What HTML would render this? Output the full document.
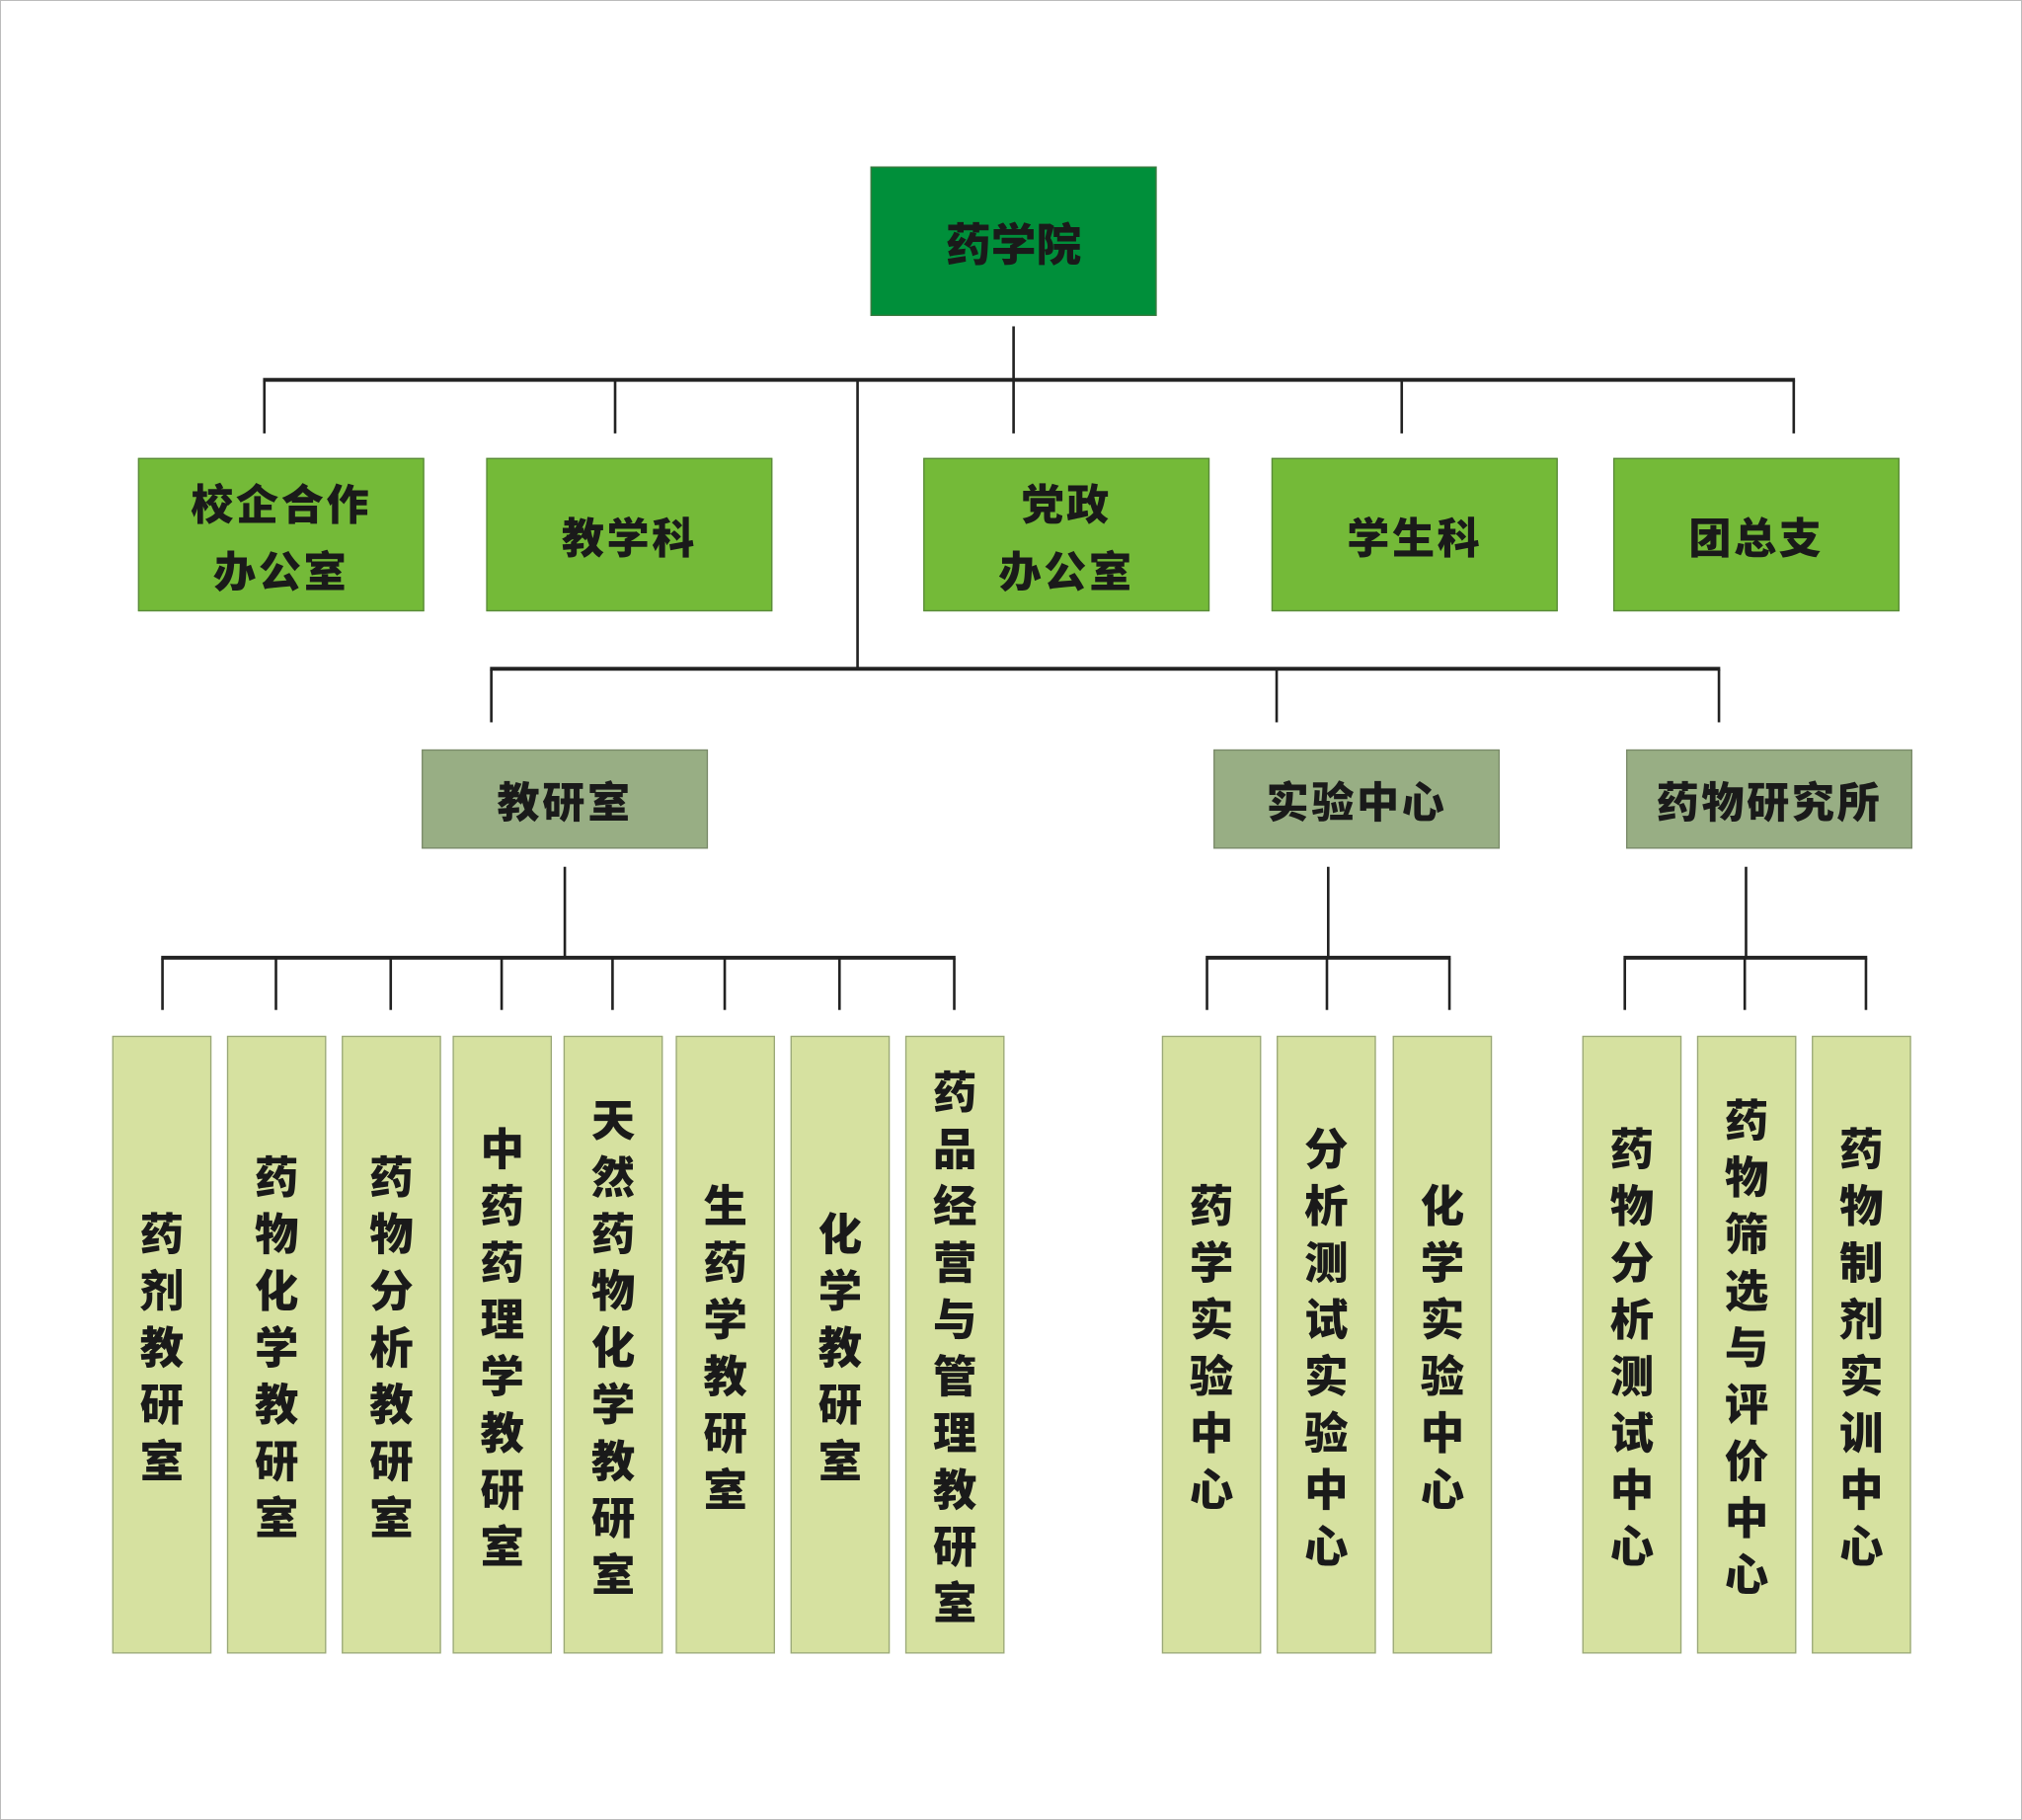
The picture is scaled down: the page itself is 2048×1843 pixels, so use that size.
<!DOCTYPE html>
<html><head><meta charset="utf-8"><style>
html,body{margin:0;padding:0;background:#fff;}
body{width:2048px;height:1843px;overflow:hidden;position:relative;}
#w{position:absolute;left:0;top:0;width:1568px;height:1411px;transform:scale(1.30612,1.30616);transform-origin:0 0;}
.b{position:absolute;display:flex;align-items:center;justify-content:center;text-align:center;box-sizing:border-box;font-family:"Noto Sans CJK SC","Liberation Sans",sans-serif;font-weight:900;color:#1a1a1a;}
.r{background:#008f3a;border:1px solid #3c7a40;font-size:35px;}
.g{background:#74ba38;border:1px solid #5a8a3a;font-size:33px;line-height:52px;letter-spacing:2px;}
.m{background:#98ae84;border:1px solid #7a8a6a;font-size:33px;letter-spacing:2px;}
.c{background:#d6e1a0;border:1px solid #9aa878;font-size:34px;line-height:44px;top:803px;height:479px;width:77px;}
.h{position:absolute;background:#222;height:3px;}
.v{position:absolute;background:#222;width:2px;}
#frame{position:absolute;left:0;top:0;width:2046px;height:1841px;border:1px solid #bbb;}
</style></head><body><div id="frame"></div><div id="w">
<div class="b r" style="left:675px;top:129px;width:222px;height:116px">药学院</div>
<div class="v" style="left:785px;top:253px;height:42px"></div>
<div class="h" style="left:204px;top:293px;width:1188px"></div>
<div class="v" style="left:204px;top:295px;height:41px"></div>
<div class="v" style="left:476px;top:295px;height:41px"></div>
<div class="v" style="left:785px;top:295px;height:41px"></div>
<div class="v" style="left:1086px;top:295px;height:41px"></div>
<div class="v" style="left:1390px;top:295px;height:41px"></div>
<div class="v" style="left:664px;top:295px;height:224px"></div>
<div class="b g" style="left:107px;top:355px;width:222px;height:119px">校企合作<br>办公室</div>
<div class="b g" style="left:377px;top:355px;width:222px;height:119px">教学科</div>
<div class="b g" style="left:716px;top:355px;width:222px;height:119px">党政<br>办公室</div>
<div class="b g" style="left:986px;top:355px;width:222px;height:119px">学生科</div>
<div class="b g" style="left:1251px;top:355px;width:222px;height:119px">团总支</div>
<div class="h" style="left:380px;top:517px;width:954px"></div>
<div class="v" style="left:380px;top:519px;height:41px"></div>
<div class="v" style="left:989px;top:519px;height:41px"></div>
<div class="v" style="left:1332px;top:519px;height:41px"></div>
<div class="b m" style="left:327px;top:581px;width:222px;height:77px">教研室</div>
<div class="b m" style="left:941px;top:581px;width:222px;height:77px">实验中心</div>
<div class="b m" style="left:1261px;top:581px;width:222px;height:77px">药物研究所</div>
<div class="v" style="left:437px;top:672px;height:71px"></div>
<div class="h" style="left:125px;top:741px;width:616px"></div>
<div class="v" style="left:125px;top:743px;height:40px"></div>
<div class="v" style="left:213px;top:743px;height:40px"></div>
<div class="v" style="left:302px;top:743px;height:40px"></div>
<div class="v" style="left:388px;top:743px;height:40px"></div>
<div class="v" style="left:474px;top:743px;height:40px"></div>
<div class="v" style="left:561px;top:743px;height:40px"></div>
<div class="v" style="left:650px;top:743px;height:40px"></div>
<div class="v" style="left:739px;top:743px;height:40px"></div>
<div class="v" style="left:1029px;top:672px;height:71px"></div>
<div class="h" style="left:935px;top:741px;width:190px"></div>
<div class="v" style="left:935px;top:743px;height:40px"></div>
<div class="v" style="left:1028px;top:743px;height:40px"></div>
<div class="v" style="left:1123px;top:743px;height:40px"></div>
<div class="v" style="left:1353px;top:672px;height:71px"></div>
<div class="h" style="left:1259px;top:741px;width:189px"></div>
<div class="v" style="left:1259px;top:743px;height:40px"></div>
<div class="v" style="left:1352px;top:743px;height:40px"></div>
<div class="v" style="left:1446px;top:743px;height:40px"></div>
<div class="b c" style="left:87px">药<br>剂<br>教<br>研<br>室</div>
<div class="b c" style="left:176px">药<br>物<br>化<br>学<br>教<br>研<br>室</div>
<div class="b c" style="left:265px">药<br>物<br>分<br>析<br>教<br>研<br>室</div>
<div class="b c" style="left:351px">中<br>药<br>药<br>理<br>学<br>教<br>研<br>室</div>
<div class="b c" style="left:437px">天<br>然<br>药<br>物<br>化<br>学<br>教<br>研<br>室</div>
<div class="b c" style="left:524px">生<br>药<br>学<br>教<br>研<br>室</div>
<div class="b c" style="left:613px">化<br>学<br>教<br>研<br>室</div>
<div class="b c" style="left:702px">药<br>品<br>经<br>营<br>与<br>管<br>理<br>教<br>研<br>室</div>
<div class="b c" style="left:901px">药<br>学<br>实<br>验<br>中<br>心</div>
<div class="b c" style="left:990px">分<br>析<br>测<br>试<br>实<br>验<br>中<br>心</div>
<div class="b c" style="left:1080px">化<br>学<br>实<br>验<br>中<br>心</div>
<div class="b c" style="left:1227px">药<br>物<br>分<br>析<br>测<br>试<br>中<br>心</div>
<div class="b c" style="left:1316px">药<br>物<br>筛<br>选<br>与<br>评<br>价<br>中<br>心</div>
<div class="b c" style="left:1405px">药<br>物<br>制<br>剂<br>实<br>训<br>中<br>心</div>
</div></body></html>
